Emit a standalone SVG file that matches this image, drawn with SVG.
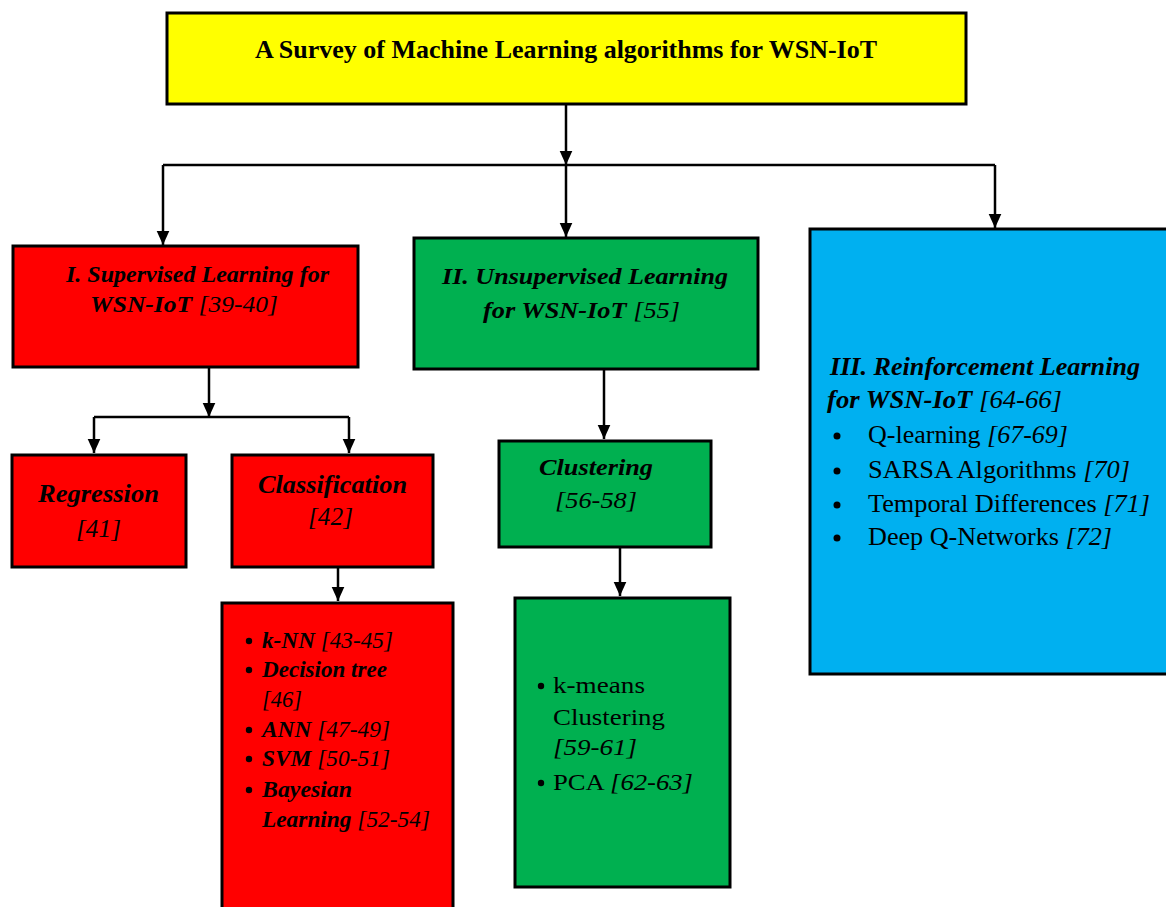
<svg xmlns="http://www.w3.org/2000/svg" width="1166" height="907" viewBox="0 0 1166 907">
<defs>
<marker id="ah" viewBox="0 0 10 10" refX="10" refY="5" markerWidth="14" markerHeight="14" orient="auto" markerUnits="userSpaceOnUse">
<path d="M0,0.5 L10,5 L0,9.5 z" fill="#000"/>
</marker>
</defs>
<style>
.box{stroke:#000;stroke-width:3}
.red{fill:#FF0000}.green{fill:#00B050}.blue{fill:#00B0F0}.yellow{fill:#FFFF00}
.t{font-family:"Liberation Serif","Times New Roman",serif;font-size:23px;fill:#000}
.bi{font-weight:bold;font-style:italic}
.i{font-style:italic;font-weight:normal}
.conn{stroke:#000;stroke-width:2.5;fill:none}
</style>
<rect width="1166" height="907" fill="#fff"/>
<g id="connectors">
<line class="conn" x1="566" y1="104" x2="566" y2="165" marker-end="url(#ah)"/>
<polyline class="conn" points="163,165 995,165"/>
<line class="conn" x1="163" y1="165" x2="163" y2="245" marker-end="url(#ah)"/>
<line class="conn" x1="566" y1="165" x2="566" y2="237" marker-end="url(#ah)"/>
<line class="conn" x1="995" y1="165" x2="995" y2="228" marker-end="url(#ah)"/>
<line class="conn" x1="209" y1="368" x2="209" y2="417" marker-end="url(#ah)"/>
<polyline class="conn" points="94,417 349,417"/>
<line class="conn" x1="94" y1="417" x2="94" y2="453" marker-end="url(#ah)"/>
<line class="conn" x1="349" y1="417" x2="349" y2="453" marker-end="url(#ah)"/>
<line class="conn" x1="338" y1="568" x2="338" y2="601" marker-end="url(#ah)"/>
<line class="conn" x1="604" y1="370" x2="604" y2="439" marker-end="url(#ah)"/>
<line class="conn" x1="620" y1="548" x2="620" y2="596" marker-end="url(#ah)"/>
</g>
<g id="title">
<rect class="box yellow" x="167" y="13" width="799" height="91"/>
<text class="t" x="255" y="58" style="font-weight:bold;font-size:25px" textLength="622" lengthAdjust="spacingAndGlyphs">A Survey of Machine Learning algorithms for WSN-IoT</text>
</g>
<g id="supervised">
<rect class="box red" x="13" y="246" width="345" height="121"/>
<text class="t bi" x="66" y="282" textLength="263" lengthAdjust="spacingAndGlyphs">I. Supervised Learning for</text>
<text class="t bi" x="90" y="312" textLength="188" lengthAdjust="spacingAndGlyphs">WSN-IoT <tspan class="i">[39-40]</tspan></text>
</g>
<g id="unsupervised">
<rect class="box green" x="414" y="238" width="344" height="131"/>
<text class="t bi" x="442" y="284" textLength="286" lengthAdjust="spacingAndGlyphs">II. Unsupervised Learning</text>
<text class="t bi" x="483" y="318" textLength="197" lengthAdjust="spacingAndGlyphs">for WSN-IoT <tspan class="i">[55]</tspan></text>
</g>
<g id="reinforcement">
<rect class="box blue" x="810" y="229" width="360" height="445"/>
<text class="t bi" x="830" y="375" style="font-size:25px" textLength="310" lengthAdjust="spacingAndGlyphs">III. Reinforcement Learning</text>
<text class="t bi" x="827" y="408" style="font-size:25px" textLength="235" lengthAdjust="spacingAndGlyphs">for WSN-IoT <tspan class="i">[64-66]</tspan></text>
<circle cx="837" cy="436" r="3.5"/>
<text class="t" x="868" y="443" style="font-size:25px" textLength="200" lengthAdjust="spacingAndGlyphs">Q-learning <tspan class="i">[67-69]</tspan></text>
<circle cx="837" cy="471" r="3.5"/>
<text class="t" x="868" y="478" style="font-size:25px" textLength="262" lengthAdjust="spacingAndGlyphs">SARSA Algorithms <tspan class="i">[70]</tspan></text>
<circle cx="837" cy="505" r="3.5"/>
<text class="t" x="868" y="512" style="font-size:25px" textLength="282" lengthAdjust="spacingAndGlyphs">Temporal Differences <tspan class="i">[71]</tspan></text>
<circle cx="837" cy="538" r="3.5"/>
<text class="t" x="868" y="545" style="font-size:25px" textLength="244" lengthAdjust="spacingAndGlyphs">Deep Q-Networks <tspan class="i">[72]</tspan></text>
</g>
<g id="regression">
<rect class="box red" x="12" y="455" width="174" height="112"/>
<text class="t bi" x="38" y="502" style="font-size:25px" textLength="121" lengthAdjust="spacingAndGlyphs">Regression</text>
<text class="t i" x="76" y="537" style="font-size:25px" textLength="45" lengthAdjust="spacingAndGlyphs">[41]</text>
</g>
<g id="classification">
<rect class="box red" x="232" y="455" width="201" height="112"/>
<text class="t bi" x="258" y="493" style="font-size:25px" textLength="149" lengthAdjust="spacingAndGlyphs">Classification</text>
<text class="t i" x="308" y="525" style="font-size:25px" textLength="45" lengthAdjust="spacingAndGlyphs">[42]</text>
</g>
<g id="classification-methods">
<rect class="box red" x="222" y="603" width="231" height="310"/>
<circle cx="249" cy="641" r="3.2"/>
<text class="t bi" x="262" y="648" textLength="131" lengthAdjust="spacingAndGlyphs">k-NN <tspan class="i">[43-45]</tspan></text>
<circle cx="249" cy="670" r="3.2"/>
<text class="t bi" x="262" y="677" textLength="125" lengthAdjust="spacingAndGlyphs">Decision tree</text>
<text class="t i" x="262" y="707" textLength="40" lengthAdjust="spacingAndGlyphs">[46]</text>
<circle cx="249" cy="730" r="3.2"/>
<text class="t bi" x="262" y="737" textLength="128" lengthAdjust="spacingAndGlyphs">ANN <tspan class="i">[47-49]</tspan></text>
<circle cx="249" cy="759" r="3.2"/>
<text class="t bi" x="262" y="766" textLength="128" lengthAdjust="spacingAndGlyphs">SVM <tspan class="i">[50-51]</tspan></text>
<circle cx="249" cy="790" r="3.2"/>
<text class="t bi" x="262" y="797" textLength="90" lengthAdjust="spacingAndGlyphs">Bayesian</text>
<text class="t bi" x="262" y="827" textLength="168" lengthAdjust="spacingAndGlyphs">Learning <tspan class="i">[52-54]</tspan></text>
</g>
<g id="clustering">
<rect class="box green" x="499" y="441" width="212" height="106"/>
<text class="t bi" x="539" y="475" textLength="114" lengthAdjust="spacingAndGlyphs">Clustering</text>
<text class="t i" x="555" y="508" textLength="82" lengthAdjust="spacingAndGlyphs">[56-58]</text>
</g>
<g id="clustering-methods">
<rect class="box green" x="515" y="598" width="215" height="289"/>
<circle cx="541" cy="686" r="3.2"/>
<text class="t" x="553" y="693" textLength="92" lengthAdjust="spacingAndGlyphs">k-means</text>
<text class="t" x="553" y="725" textLength="112" lengthAdjust="spacingAndGlyphs">Clustering</text>
<text class="t i" x="553" y="755" textLength="84" lengthAdjust="spacingAndGlyphs">[59-61]</text>
<circle cx="541" cy="783" r="3.2"/>
<text class="t" x="553" y="790" textLength="140" lengthAdjust="spacingAndGlyphs">PCA <tspan class="i">[62-63]</tspan></text>
</g>
</svg>
